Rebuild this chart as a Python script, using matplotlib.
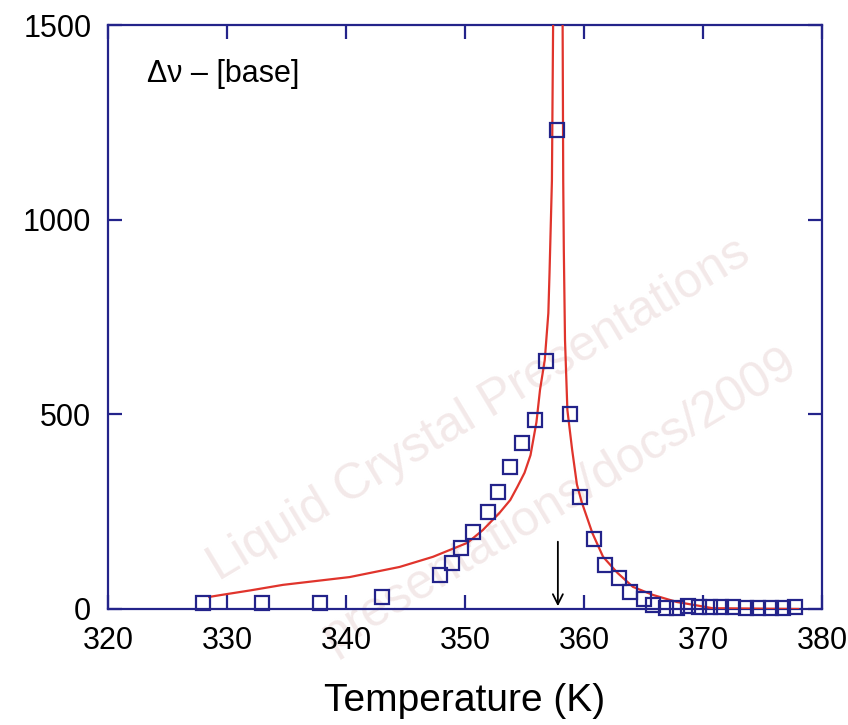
import matplotlib

matplotlib.use('Agg')
import matplotlib.pyplot as plt

# measured points (squares)
T_DATA = [328.0, 332.9, 337.8, 343.0, 347.9, 348.9, 349.7, 350.7, 351.9, 352.8, 353.8,
          354.8, 355.9, 356.8, 357.7, 358.8, 359.7, 360.8, 361.8, 362.9, 363.9, 365.0,
          365.8, 366.9, 367.8, 368.7, 369.7, 370.6, 371.5, 372.5, 373.6, 374.6, 375.7,
          376.7, 377.7]
DNU_DATA = [15, 15, 15, 31, 87, 118, 157, 198, 249, 301, 365,
            427, 486, 637, 1231, 501, 288, 180, 113, 80, 44, 26,
            10, 3, 3, 8, 6, 5, 5, 5, 2, 2, 2,
            3, 6]

# fitted curve (two branches around Tc)
T_FIT_LOW = [328.5, 329.5, 332.0, 334.7, 337.5, 340.3, 344.5, 347.3, 350.2, 351.5, 352.9,
             353.8, 354.4, 355.0, 355.5, 356.0, 356.3, 356.7, 357.0, 357.1, 357.3, 357.4,
             357.45]
DNU_FIT_LOW = [31, 36, 48, 62, 72, 82, 108, 134, 170, 203, 247,
               280, 314, 350, 395, 480, 563, 640, 760, 864, 1100, 1500,
               1700]
T_FIT_HIGH = [358.15, 358.2, 358.25, 358.3, 358.4, 358.6, 359.0, 359.4, 359.8, 360.7,
              361.6, 362.8, 364.1, 365.8, 367.8, 369.7, 370.8, 378.0]
DNU_FIT_HIGH = [1700, 1500, 1100, 923, 691, 511, 409, 320, 275, 195,
                134, 93, 57, 36, 18, 8, 2, 0]

T_C = 357.8
X_TICKS = [320, 330, 340, 350, 360, 370, 380]
Y_TICKS = [0, 500, 1000, 1500]

NAVY = '#23238a'
RED = '#e0342c'
WM = '#f3e9e9'

plt.rcParams['font.family'] = ['Liberation Sans', 'DejaVu Sans']

fig = plt.figure(figsize=(8.48, 7.25), dpi=100)
ax = fig.add_axes([0.1274, 0.16, 0.842, 0.8055])
ax.set_zorder(2)
ax.patch.set_alpha(0)

# faint watermark behind everything
fig.text(0.565, 0.435, 'Liquid Crystal Presentations', fontsize=36,
         color=WM, rotation=31, ha='center', va='center', zorder=0)
fig.text(0.66, 0.31, 'presentations/docs/2009', fontsize=36,
         color=WM, rotation=31, ha='center', va='center', zorder=0)

ax.plot(T_FIT_LOW, DNU_FIT_LOW, color=RED, lw=1.6, zorder=3)
ax.plot(T_FIT_HIGH, DNU_FIT_HIGH, color=RED, lw=1.6, zorder=3)
ax.plot(T_DATA, DNU_DATA, 's', ms=9.5, mfc='none', mec=NAVY, mew=1.6, zorder=4,
        clip_on=False)

ax.annotate('', xy=(T_C, 0), xytext=(T_C, 180),
            arrowprops=dict(arrowstyle='->', color='black', lw=1.3,
                            mutation_scale=18))

ax.text(323.3, 1373, 'Δν – [base]', fontsize=22, ha='left', va='center')

ax.set_xlim(320, 380)
ax.set_ylim(0, 1500)
ax.set_xticks(X_TICKS)
ax.set_yticks(Y_TICKS)
ax.tick_params(direction='in', length=10, width=1.6, color=NAVY, labelsize=22,
               top=True, right=True)
ax.tick_params(axis='x', pad=12)
ax.tick_params(axis='y', pad=12)
for s in ax.spines.values():
    s.set_color(NAVY)
    s.set_linewidth(1.6)
ax.set_xlabel('Temperature (K)', fontsize=28, labelpad=20)

fig.savefig('out.png', dpi=100)
